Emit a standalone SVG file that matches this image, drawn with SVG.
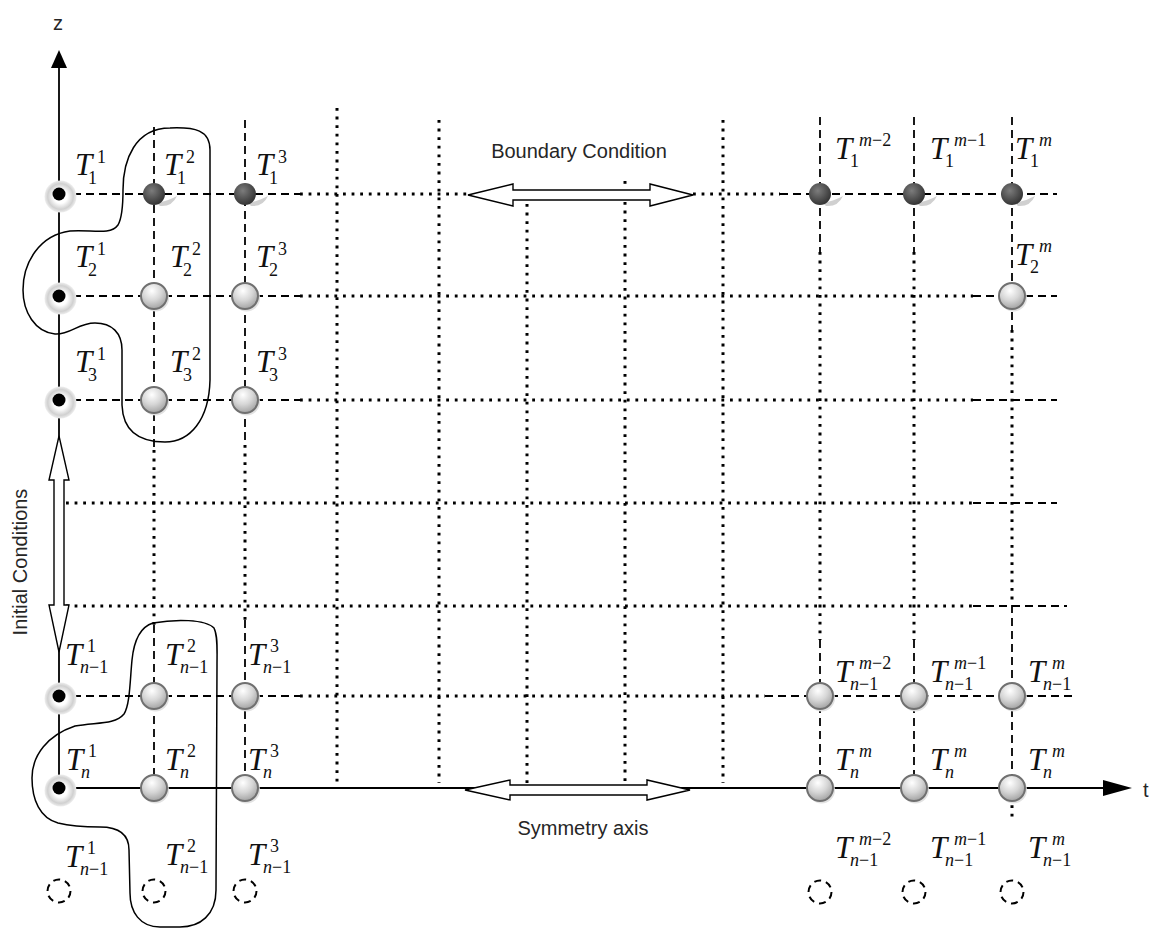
<svg xmlns="http://www.w3.org/2000/svg" xmlns:xlink="http://www.w3.org/1999/xlink" width="1165" height="931" viewBox="0 0 1165 931">
<style>
.dash{fill:none;stroke:#000;stroke-width:1.8;stroke-dasharray:8 5}
.dot{fill:none;stroke:#000;stroke-width:3;stroke-dasharray:2.8 5.8}
.solid{fill:none;stroke:#000;stroke-width:1.8}
.hollow{fill:#fff;stroke:#000;stroke-width:1.4;stroke-linejoin:miter}
.blob{fill:none;stroke:#000;stroke-width:1.5}
.T{font-family:"Liberation Serif",serif;font-style:italic;font-size:31px;fill:#111}
.s{font-style:normal;font-size:18px}
.i{font-style:italic}
.lab{font-family:"Liberation Sans",Arial,sans-serif;font-size:20px;fill:#262626}
</style>
<defs>
<radialGradient id="gLight" cx="0.42" cy="0.3" r="0.75">
<stop offset="0" stop-color="#ffffff"/>
<stop offset="0.5" stop-color="#d6d6d6"/>
<stop offset="1" stop-color="#9c9c9c"/>
</radialGradient>
<radialGradient id="gDark" cx="0.4" cy="0.35" r="0.7">
<stop offset="0" stop-color="#7c7c7c"/>
<stop offset="1" stop-color="#2f2f2f"/>
</radialGradient>
<radialGradient id="gHalo">
<stop offset="0.42" stop-color="#ffffff"/>
<stop offset="0.8" stop-color="#d0d0d0"/>
<stop offset="1" stop-color="#eeeeee"/>
</radialGradient>
<g id="light"><circle cx="1.5" cy="2" r="13.5" fill="#e2e2e2"/><circle r="13" fill="url(#gLight)" stroke="#707070" stroke-width="2"/></g>
<g id="dark"><path d="M3,9 Q14,7 23,2 Q18,13 6,12 Z" fill="#d0d0d0"/><circle r="11" fill="url(#gDark)"/></g>
<g id="init"><circle cx="1.5" cy="2.5" r="16" fill="url(#gHalo)"/><circle r="6.5" fill="#000"/></g>
<g id="ghost"><circle r="11.5" fill="none" stroke="#000" stroke-width="2" stroke-dasharray="7 5"/></g>
</defs>
<rect width="1165" height="931" fill="#fff"/>

<g id="connectors">
<line class="dash" x1="73" y1="194" x2="300" y2="194"/>
<line class="dot" x1="300" y1="194" x2="468" y2="194"/>
<line class="dot" x1="693" y1="194" x2="780" y2="194"/>
<line class="dash" x1="780" y1="194" x2="1057" y2="194"/>
<line class="dash" x1="73" y1="296" x2="300" y2="296"/>
<line class="dot" x1="300" y1="296" x2="973" y2="296"/>
<line class="dash" x1="973" y1="296" x2="1057" y2="296"/>
<line class="dash" x1="73" y1="400" x2="300" y2="400"/>
<line class="dot" x1="300" y1="400" x2="973" y2="400"/>
<line class="dash" x1="973" y1="400" x2="1057" y2="400"/>
<line class="dot" x1="66" y1="503" x2="973" y2="503"/>
<line class="dash" x1="973" y1="503" x2="1057" y2="503"/>
<line class="dot" x1="66" y1="606" x2="973" y2="606"/>
<line class="dash" x1="973" y1="606" x2="1067" y2="606"/>
<line class="dash" x1="73" y1="696" x2="300" y2="696"/>
<line class="dot" x1="300" y1="696" x2="765" y2="696"/>
<line class="dash" x1="765" y1="696" x2="1075" y2="696"/>
<line class="dash" x1="154" y1="127" x2="154" y2="450"/>
<line class="dot" x1="154" y1="450" x2="154" y2="625"/>
<line class="dash" x1="154" y1="625" x2="154" y2="788"/>
<line class="dash" x1="245" y1="120" x2="245" y2="445"/>
<line class="dot" x1="245" y1="445" x2="245" y2="620"/>
<line class="dash" x1="245" y1="620" x2="245" y2="788"/>
<line class="dot" x1="337" y1="108" x2="337" y2="783"/>
<line class="dot" x1="439" y1="120" x2="439" y2="783"/>
<line class="dot" x1="527" y1="204" x2="527" y2="783"/>
<line class="dot" x1="625" y1="202" x2="625" y2="783"/>
<line class="dot" x1="625" y1="181" x2="625" y2="184"/>
<line class="dot" x1="723" y1="120" x2="723" y2="783"/>
<line class="dash" x1="820" y1="117" x2="820" y2="252"/>
<line class="dot" x1="820" y1="252" x2="820" y2="640"/>
<line class="dash" x1="820" y1="640" x2="820" y2="788"/>
<line class="dash" x1="914" y1="117" x2="914" y2="252"/>
<line class="dot" x1="914" y1="252" x2="914" y2="640"/>
<line class="dash" x1="914" y1="640" x2="914" y2="788"/>
<line class="dash" x1="1012" y1="117" x2="1012" y2="330"/>
<line class="dot" x1="1012" y1="330" x2="1012" y2="605"/>
<line class="dash" x1="1012" y1="605" x2="1012" y2="788"/>
<line class="dot" x1="1012" y1="788" x2="1012" y2="822"/>
<line class="solid" x1="59" y1="66" x2="59" y2="788"/>
<polygon points="59,50 51,68 67,68" fill="#000"/>
<line class="solid" x1="59" y1="788" x2="1105" y2="788"/>
<polygon points="1132,788 1103,780 1103,796" fill="#000"/>
<path class="hollow" d="M468,195 L513,184 L513,190 L650,190 L650,184 L693,195 L650,206 L650,200 L513,200 L513,206 Z"/>
<path class="hollow" d="M465,790 L510,780 L510,785 L647,785 L647,780 L690,790 L647,800 L647,795 L510,795 L510,800 Z"/>
<path class="hollow" d="M59,436 L49,480 L54,480 L54,605 L49,605 L59,652 L69,605 L64,605 L64,480 L69,480 Z"/>
<path class="blob" d="M123,190 C123,160 135,128 170,128 C195,127 210,130 210,150 L210,380 C209,420 190,442 165,442 C140,442 123,432 122,405 L122,350 C122,333 112,323 95,323 C78,323 70,335 55,334 C35,332 23,312 23,290 C23,262 40,235 70,231 C90,229 110,236 118,225 C122,218 123,205 123,190 Z"/>
<path class="blob" d="M153,623 C175,619 205,619 214,628 C218,636 217,650 217,665 L216,890 C216,915 200,927 180,927 L160,927 C140,927 130,912 130,893 L129,850 C129,832 115,827 100,827 C85,827 70,826 58,823 C40,818 32,800 32,778 C32,755 48,735 75,726 C95,722 115,725 124,714 C130,705 130,680 132,660 C134,640 140,627 153,623 Z"/>
</g>

<g id="nodes">
<g id="n-1-1"><use xlink:href="#init" x="59" y="194"/></g>
<g id="n-2-1"><use xlink:href="#init" x="59" y="296"/></g>
<g id="n-3-1"><use xlink:href="#init" x="59" y="400"/></g>
<g id="n-nm1-1"><use xlink:href="#init" x="59" y="696"/></g>
<g id="n-n-1"><use xlink:href="#init" x="59" y="788"/></g>
<g id="n-1-2"><use xlink:href="#dark" x="154" y="194"/></g>
<g id="n-1-3"><use xlink:href="#dark" x="245" y="194"/></g>
<g id="n-1-mm2"><use xlink:href="#dark" x="820" y="194"/></g>
<g id="n-1-mm1"><use xlink:href="#dark" x="914" y="194"/></g>
<g id="n-1-m"><use xlink:href="#dark" x="1012" y="194"/></g>
<g id="n-2-2"><use xlink:href="#light" x="154" y="296"/></g>
<g id="n-2-3"><use xlink:href="#light" x="245" y="296"/></g>
<g id="n-3-2"><use xlink:href="#light" x="154" y="400"/></g>
<g id="n-3-3"><use xlink:href="#light" x="245" y="400"/></g>
<g id="n-2-m"><use xlink:href="#light" x="1012" y="296"/></g>
<g id="n-nm1-2"><use xlink:href="#light" x="154" y="696"/></g>
<g id="n-nm1-3"><use xlink:href="#light" x="245" y="696"/></g>
<g id="n-nm1-mm2"><use xlink:href="#light" x="820" y="696"/></g>
<g id="n-nm1-mm1"><use xlink:href="#light" x="914" y="696"/></g>
<g id="n-nm1-m"><use xlink:href="#light" x="1012" y="696"/></g>
<g id="n-n-2"><use xlink:href="#light" x="154" y="788"/></g>
<g id="n-n-3"><use xlink:href="#light" x="245" y="788"/></g>
<g id="n-n-mm2"><use xlink:href="#light" x="820" y="788"/></g>
<g id="n-n-mm1"><use xlink:href="#light" x="914" y="788"/></g>
<g id="n-n-m"><use xlink:href="#light" x="1012" y="788"/></g>
<g id="g-1"><use xlink:href="#ghost" x="59" y="891"/></g>
<g id="g-2"><use xlink:href="#ghost" x="154" y="891"/></g>
<g id="g-3"><use xlink:href="#ghost" x="245" y="891"/></g>
<g id="g-mm2"><use xlink:href="#ghost" x="820" y="892"/></g>
<g id="g-mm1"><use xlink:href="#ghost" x="914" y="892"/></g>
<g id="g-m"><use xlink:href="#ghost" x="1012" y="892"/></g>
</g>

<g id="labels">
<text class="T" transform="translate(75,175)">T<tspan class="s" x="13" y="9">1</tspan><tspan class="s" x="22" y="-12">1</tspan></text>
<text class="T" transform="translate(164,175)">T<tspan class="s" x="13" y="9">1</tspan><tspan class="s" x="22" y="-12">2</tspan></text>
<text class="T" transform="translate(256,175)">T<tspan class="s" x="13" y="9">1</tspan><tspan class="s" x="22" y="-12">3</tspan></text>
<text class="T" transform="translate(75,267)">T<tspan class="s" x="13" y="9">2</tspan><tspan class="s" x="22" y="-12">1</tspan></text>
<text class="T" transform="translate(170,267)">T<tspan class="s" x="13" y="9">2</tspan><tspan class="s" x="22" y="-12">2</tspan></text>
<text class="T" transform="translate(256,267)">T<tspan class="s" x="13" y="9">2</tspan><tspan class="s" x="22" y="-12">3</tspan></text>
<text class="T" transform="translate(75,372)">T<tspan class="s" x="13" y="9">3</tspan><tspan class="s" x="22" y="-12">1</tspan></text>
<text class="T" transform="translate(170,372)">T<tspan class="s" x="13" y="9">3</tspan><tspan class="s" x="22" y="-12">2</tspan></text>
<text class="T" transform="translate(256,372)">T<tspan class="s" x="13" y="9">3</tspan><tspan class="s" x="22" y="-12">3</tspan></text>
<text class="T" transform="translate(65,665)">T<tspan class="s" x="15" y="8"><tspan class="i">n</tspan>−1</tspan><tspan class="s" x="22" y="-13">1</tspan></text>
<text class="T" transform="translate(165,665)">T<tspan class="s" x="15" y="8"><tspan class="i">n</tspan>−1</tspan><tspan class="s" x="22" y="-13">2</tspan></text>
<text class="T" transform="translate(248,665)">T<tspan class="s" x="15" y="8"><tspan class="i">n</tspan>−1</tspan><tspan class="s" x="22" y="-13">3</tspan></text>
<text class="T" transform="translate(66,770)">T<tspan class="s i" x="15" y="8">n</tspan><tspan class="s" x="22" y="-13">1</tspan></text>
<text class="T" transform="translate(165,770)">T<tspan class="s i" x="15" y="8">n</tspan><tspan class="s" x="22" y="-13">2</tspan></text>
<text class="T" transform="translate(248,770)">T<tspan class="s i" x="15" y="8">n</tspan><tspan class="s" x="22" y="-13">3</tspan></text>
<text class="T" transform="translate(65,867)">T<tspan class="s" x="15" y="8"><tspan class="i">n</tspan>−1</tspan><tspan class="s" x="22" y="-13">1</tspan></text>
<text class="T" transform="translate(165,865)">T<tspan class="s" x="15" y="8"><tspan class="i">n</tspan>−1</tspan><tspan class="s" x="22" y="-13">2</tspan></text>
<text class="T" transform="translate(248,865)">T<tspan class="s" x="15" y="8"><tspan class="i">n</tspan>−1</tspan><tspan class="s" x="22" y="-13">3</tspan></text>
<text class="T" transform="translate(835,159)">T<tspan class="s" x="15" y="8">1</tspan><tspan class="s" x="24" y="-13"><tspan class="i">m</tspan>−2</tspan></text>
<text class="T" transform="translate(930,159)">T<tspan class="s" x="15" y="8">1</tspan><tspan class="s" x="24" y="-13"><tspan class="i">m</tspan>−1</tspan></text>
<text class="T" transform="translate(1015,159)">T<tspan class="s" x="15" y="8">1</tspan><tspan class="s i" x="24" y="-13">m</tspan></text>
<text class="T" transform="translate(1015,265)">T<tspan class="s" x="15" y="8">2</tspan><tspan class="s i" x="24" y="-13">m</tspan></text>
<text class="T" transform="translate(835,682)">T<tspan class="s" x="15" y="8"><tspan class="i">n</tspan>−1</tspan><tspan class="s" x="24" y="-13"><tspan class="i">m</tspan>−2</tspan></text>
<text class="T" transform="translate(930,682)">T<tspan class="s" x="15" y="8"><tspan class="i">n</tspan>−1</tspan><tspan class="s" x="24" y="-13"><tspan class="i">m</tspan>−1</tspan></text>
<text class="T" transform="translate(1028,682)">T<tspan class="s" x="15" y="8"><tspan class="i">n</tspan>−1</tspan><tspan class="s i" x="24" y="-13">m</tspan></text>
<text class="T" transform="translate(835,770)">T<tspan class="s i" x="15" y="8">n</tspan><tspan class="s i" x="24" y="-13">m</tspan></text>
<text class="T" transform="translate(930,770)">T<tspan class="s i" x="15" y="8">n</tspan><tspan class="s i" x="24" y="-13">m</tspan></text>
<text class="T" transform="translate(1028,770)">T<tspan class="s i" x="15" y="8">n</tspan><tspan class="s i" x="24" y="-13">m</tspan></text>
<text class="T" transform="translate(835,858)">T<tspan class="s" x="15" y="8"><tspan class="i">n</tspan>−1</tspan><tspan class="s" x="24" y="-13"><tspan class="i">m</tspan>−2</tspan></text>
<text class="T" transform="translate(930,858)">T<tspan class="s" x="15" y="8"><tspan class="i">n</tspan>−1</tspan><tspan class="s" x="24" y="-13"><tspan class="i">m</tspan>−1</tspan></text>
<text class="T" transform="translate(1028,858)">T<tspan class="s" x="15" y="8"><tspan class="i">n</tspan>−1</tspan><tspan class="s i" x="24" y="-13">m</tspan></text>
<text class="lab" x="58" y="30" text-anchor="middle" font-size="22">z</text>
<text class="lab" x="1143" y="797" font-size="22">t</text>
<text class="lab" x="579" y="158" text-anchor="middle">Boundary Condition</text>
<text class="lab" x="583" y="835" text-anchor="middle">Symmetry axis</text>
<text class="lab" transform="translate(27,562) rotate(-90)" text-anchor="middle">Initial Conditions</text>
</g>
</svg>
